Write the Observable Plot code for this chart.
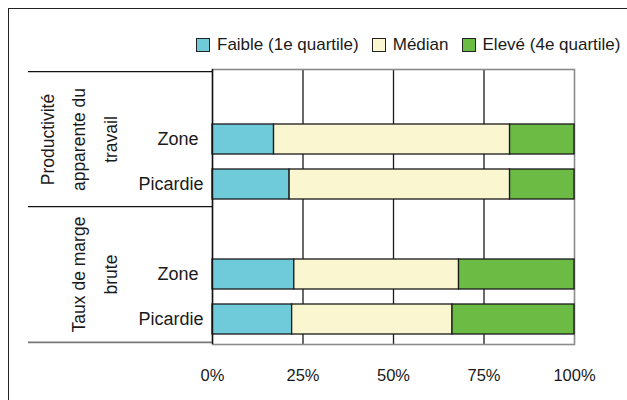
<!DOCTYPE html>
<html>
<head>
<meta charset="utf-8">
<script src="https://cdn.jsdelivr.net/npm/d3@7"></script>
<script src="https://cdn.jsdelivr.net/npm/@observablehq/plot@0.6"></script>
<style>
  html, body { margin: 0; padding: 0; background: #fff; }
  #wrap { position: relative; width: 627px; height: 400px; overflow: hidden; font-family: "Liberation Sans", Arial, sans-serif; color: #1a1a1a; }
  #border { position: absolute; left: 8px; top: 8px; width: 640px; height: 420px; border-left: 1.5px solid #222; border-top: 1.5px solid #222; }
  #legend { position: absolute; left: 196px; top: 36px; display: flex; align-items: center; font-size: 17px; line-height: 18px; white-space: nowrap; }
  .item { display: flex; align-items: center; margin-right: 13px; }
  .sw { width: 12px; height: 12px; border: 1px solid #222; margin-right: 7px; }
  #chart { position: absolute; left: 0; top: 0; }
</style>
</head>
<body>
<div id="wrap">
  <div id="border"></div>
  <div id="chart"></div>
  <div id="legend"></div>
</div>
<script>
// ---- data ----
const groupIds = ["prod", "marge"];
const groupLabels = ["Productivité\napparente du\ntravail", "Taux de marge\nbrute"];
const places = ["Zone ", "Picardie"];
const levels = ["Faible (1e quartile)", "Médian", "Elevé (4e quartile)"];
const colors = ["#6fcbd9", "#faf7d0", "#6cbb45"];
// values in %, order: prod-Zone, prod-Picardie, marge-Zone, marge-Picardie
const faible = [17.0, 21.3, 22.6, 22.0];
const median = [65.2, 60.9, 45.5, 44.3];
const eleve  = [17.8, 17.8, 31.9, 33.7];
const xTicks = [0, 25, 50, 75, 100];

// ---- derived tables ----
const yDomain = [];
groupIds.forEach(g => { yDomain.push(g + "|"); places.forEach(p => yDomain.push(g + "|" + p)); });
const series = [faible, median, eleve];
const rows = [];
let idx = 0;
groupIds.forEach(g => places.forEach(p => {
  levels.forEach((lv, j) => rows.push({key: g + "|" + p, level: lv, value: series[j][idx]}));
  idx++;
}));
const groupRows = groupIds.map((g, i) => ({key: g + "|" + places[0], label: groupLabels[i]}));

// layout
const W = 627, H = 400, mt = 69, mb = 56, ml = 212, mr = 53;
const step = (H - mt - mb) / yDomain.length;
const topKeys = groupIds.map(g => g + "|");
const lastKey = [yDomain[yDomain.length - 1]];

const chart = Plot.plot({
  width: W, height: H,
  marginTop: mt, marginBottom: mb, marginLeft: ml, marginRight: mr,
  style: {fontFamily: "'Liberation Sans', Arial, sans-serif", fontSize: "17px", color: "#1a1a1a", background: "transparent", overflow: "visible"},
  x: {domain: [0, 100], label: null},
  y: {domain: yDomain, paddingInner: 0.33, paddingOuter: 0.165, label: null},
  color: {domain: levels, range: colors},
  marks: [
    Plot.gridX(xTicks.slice(1, -1), {stroke: "#1a1a1a", strokeOpacity: 1, strokeWidth: 1.3}),
    Plot.frame({stroke: "#8a8a8a", strokeWidth: 1.6}),
    Plot.barX(rows, Plot.stackX({y: "key", x: "value", fill: "level", stroke: "#1a1a1a", strokeWidth: 1.3})),
    Plot.ruleX([0], {stroke: "#111", strokeWidth: 1.4}),
    // separator lines in the label area
    Plot.ruleY(topKeys, {y: d => d, dy: -step / 2, stroke: "#111", strokeWidth: 1.4, insetLeft: -184, insetRight: W - ml - mr}),
    Plot.ruleY(lastKey, {y: d => d, dy: step / 2, stroke: "#777", strokeWidth: 1.6, insetLeft: -184, insetRight: W - ml - mr}),
    Plot.axisX(xTicks, {tickSize: 0, tickPadding: 25, tickFormat: d => d + "%", fontSize: 16.5, fill: "#1a1a1a", label: null}),
    Plot.axisY({tickSize: 0, tickPadding: 9, tickFormat: k => k.split("|")[1], fontSize: 18, fill: "#1a1a1a", label: null}),
    Plot.text(groupRows, {y: "key", text: "label", frameAnchor: "left", rotate: -90, dx: -96,
      lineAnchor: "bottom", lineHeight: 1.78, textAnchor: "middle", fontSize: 17.5, fill: "#1a1a1a"})
  ]
});
document.getElementById("chart").appendChild(chart);

// legend
const lg = document.getElementById("legend");
levels.forEach((lv, i) => {
  const it = document.createElement("div");
  it.className = "item";
  const sw = document.createElement("div");
  sw.className = "sw";
  sw.style.background = colors[i];
  const t = document.createElement("span");
  t.textContent = lv;
  it.appendChild(sw); it.appendChild(t);
  lg.appendChild(it);
});
</script>
</body>
</html>
